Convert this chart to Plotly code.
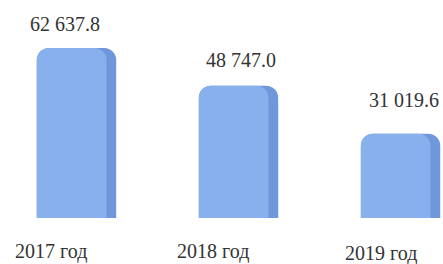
import plotly.graph_objects as go

categories = ["2017 год", "2018 год", "2019 год"]
values = [62637.8, 48747.0, 31019.6]
value_labels = ["62 637.8", "48 747.0", "31 019.6"]

x_pos = list(range(len(categories)))

fig = go.Figure()
# darker side face (full width)
fig.add_trace(go.Bar(
    x=x_pos, y=values, width=0.49, offset=-0.245,
    marker=dict(color="#6F97DC", cornerradius=12, line=dict(width=0)),
    hoverinfo="skip",
))
# lighter front face
fig.add_trace(go.Bar(
    x=x_pos, y=values, width=0.43, offset=-0.245,
    marker=dict(color="#88B0EC", cornerradius=12, line=dict(width=0)),
    hoverinfo="skip",
))

label_dx = [-0.07, 0.015, 0.02]
label_shift = [24, 26, 34]
for i, (v, t) in enumerate(zip(values, value_labels)):
    fig.add_annotation(x=x_pos[i] + label_dx[i], y=v, xref="x", yref="y",
                       text=t, showarrow=False, yshift=label_shift[i],
                       font=dict(family="Liberation Serif", size=20, color="#333333"))

cat_dx = [-0.16, -0.16, -0.12]
cat_shift = [-33, -33, -35]
for i, c in enumerate(categories):
    fig.add_annotation(x=x_pos[i] + cat_dx[i], y=0, xref="x", yref="y",
                       text=c, showarrow=False, yshift=cat_shift[i],
                       font=dict(family="Liberation Serif", size=20, color="#333333"))

fig.update_layout(
    width=443, height=264,
    margin=dict(l=0, r=0, t=0, b=46),
    paper_bgcolor="white", plot_bgcolor="white",
    showlegend=False, barmode="overlay",
    xaxis=dict(range=[-0.472, 2.262], showticklabels=False, showgrid=False,
               zeroline=False, showline=False, ticks=""),
    yaxis=dict(range=[0, 80324], showticklabels=False, showgrid=False,
               zeroline=False, showline=False, ticks=""),
)

fig.write_html("out.html", config={"displayModeBar": False},
               post_script="document.body.style.margin='0';document.body.style.overflow='hidden';")
